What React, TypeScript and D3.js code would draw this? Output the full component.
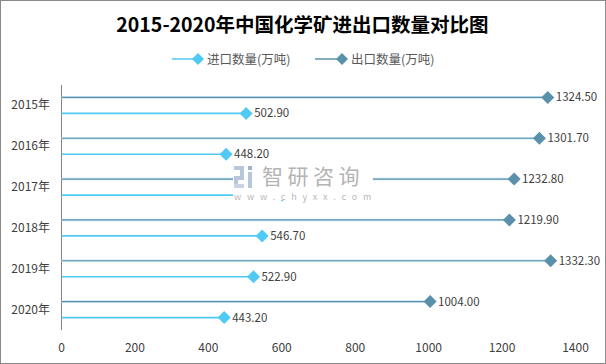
import React from 'react';
import * as d3 from 'd3';

const categories = ['2015年', '2016年', '2017年', '2018年', '2019年', '2020年'];
const importVals = [502.9, 448.2, 601.1, 546.7, 522.9, 443.2];
const exportVals = [1324.5, 1301.7, 1232.8, 1219.9, 1332.3, 1004.0];
const xTicks = [0, 200, 400, 600, 800, 1000, 1200, 1400];
const seriesNames = ['进口数量(万吨)', '出口数量(万吨)'];

const W = 606;
const H = 364;
const importColor = '#4fcaf5';
const exportColor = '#5b90ab';
const font = '"Noto Sans CJK SC", "Noto Sans", sans-serif';

// watermark box in the reference hides part of the 2017 row
const wm = { x0: 233, x1: 373, y0: 163, y1: 200 };

const Diamond = ({ cx, cy, r, fill }: { cx: number; cy: number; r: number; fill: string }) => (
  <path d={`M${cx},${cy - r}L${cx + r},${cy}L${cx},${cy + r}L${cx - r},${cy}Z`} fill={fill} />
);

export default function App() {
  const x = d3.scaleLinear().domain([0, 1400]).range([61.5, 575.5]);
  const y = d3.scaleBand<string>().domain(categories).range([85, 330]);
  const half = y.bandwidth() / 2;

  const rows = categories.map((c, i) => ({ c, imp: importVals[i], exp: exportVals[i] }));
  const hidden = (px: number, py: number) => px > wm.x0 && px < wm.x1 && py > wm.y0 && py < wm.y1;

  return (
    <svg width={W} height={H} style={{ position: 'fixed', left: 0, top: 0 }} fontFamily={font}>
      <rect x={0.5} y={0.5} width={W - 1} height={H - 1} fill="#fff" stroke="#898989" />

      {/* title */}
      <text x={302.5} y={32} textAnchor="middle" fontSize={19.5} fontWeight="bold" fill="#000">
        2015-2020年中国化学矿进出口数量对比图
      </text>

      {/* legend */}
      <g fontSize={12.5} fill="#595959">
        <line x1={172} x2={197} y1={59} y2={59} stroke={importColor} strokeWidth={1.5} />
        <Diamond cx={198} cy={59} r={6} fill={importColor} />
        <text x={207} y={63.5}>{seriesNames[0]}</text>
        <line x1={315} x2={341} y1={59} y2={59} stroke={exportColor} strokeWidth={1.5} />
        <Diamond cx={342} cy={59} r={6} fill={exportColor} />
        <text x={351} y={63.5}>{seriesNames[1]}</text>
      </g>

      {/* y axis */}
      <line x1={x(0)} x2={x(0)} y1={85} y2={330} stroke="#868686" strokeWidth={1} />
      <g fontSize={12} fill="#404040">
        {categories.map((c) => (
          <text key={c} x={50} y={(y(c) ?? 0) + half + 4} textAnchor="end">{c}</text>
        ))}
      </g>

      {/* x tick labels */}
      <g fontSize={12} fill="#404040">
        {xTicks.map((t) => (
          <text key={t} x={x(t)} y={352} textAnchor="middle">{t}</text>
        ))}
      </g>

      {/* lollipops */}
      {rows.map((r) => {
        const yc = (y(r.c) ?? 0) + half;
        const ye = yc - 8;
        const yi = yc + 8;
        return (
          <g key={r.c}>
            <line x1={x(0)} x2={x(r.exp)} y1={ye} y2={ye} stroke="#c9e6f2" strokeWidth={2.5} />
            <line x1={x(0)} x2={x(r.exp)} y1={ye} y2={ye} stroke={exportColor} strokeWidth={1.2} />
            <Diamond cx={x(r.exp)} cy={ye} r={6.5} fill={exportColor} />
            {!hidden(x(r.exp) + 20, ye) && (
              <text x={x(r.exp) + 8} y={ye + 4} fontSize={11.5} fill="#404040">{r.exp.toFixed(2)}</text>
            )}
            <line x1={x(0)} x2={x(r.imp)} y1={yi} y2={yi} stroke={importColor} strokeWidth={1.6} />
            <Diamond cx={x(r.imp)} cy={yi} r={6.5} fill={importColor} />
            {!hidden(x(r.imp) + 20, yi) && (
              <text x={x(r.imp) + 8} y={yi + 4} fontSize={11.5} fill="#404040">{r.imp.toFixed(2)}</text>
            )}
          </g>
        );
      })}

      {/* watermark */}
      <g>
        <rect x={wm.x0} y={wm.y0} width={wm.x1 - wm.x0} height={wm.y1 - wm.y0} fill="#fff" />
        <rect x={234} y={166} width={10} height={4} fill="#b7c6dc" />
        <rect x={240} y={166} width={4} height={12} fill="#b7c6dc" />
        <rect x={234} y={176} width={10} height={4} fill="#b7c6dc" />
        <rect x={234} y={176} width={4} height={12} fill="#b7c6dc" />
        <rect x={234} y={184} width={10} height={4} fill="#c8d3e4" />
        <rect x={248} y={166} width={4} height={4} fill="#9fb3cf" />
        <rect x={248} y={172} width={4} height={16} fill="#b7c6dc" />
        <text x={262} y={184} fontSize={21} fill="#b4b4b4" letterSpacing={4.5}>智研咨询</text>
        <text x={234} y={200} fontSize={9} fill="#b8b8b8" letterSpacing={5.8}>www.chyxx.com</text>
      </g>
    </svg>
  );
}
